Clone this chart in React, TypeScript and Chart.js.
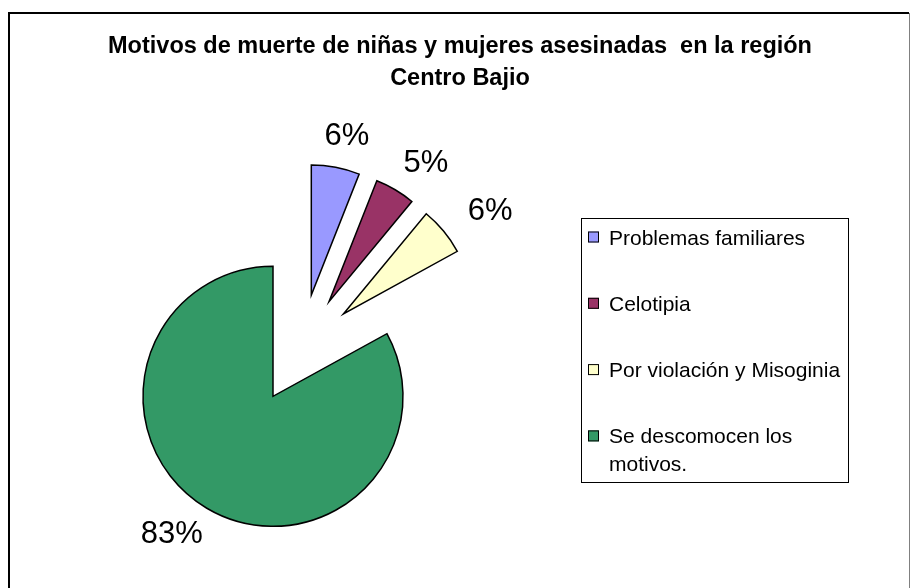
import React, { useEffect, useRef } from "react";
import { Chart, registerables } from "chart.js";

Chart.register(...registerables);

const TITLE_LINES = [
  "Motivos de muerte de niñas y mujeres asesinadas  en la región",
  "Centro Bajio",
];
const CATEGORIES = [
  "Problemas familiares",
  "Celotipia",
  "Por violación y Misoginia",
  "Se descomocen los motivos.",
];
const VALUES = [6, 5, 6, 83];
const COLORS = ["#9999FF", "#993366", "#FFFFCC", "#339966"];

const FONT = "'Liberation Sans', Arial, sans-serif";
const EXPLODE = 55;
const RADIUS = 130;

const framePlugin = {
  id: "frame",
  beforeDraw(chart: any) {
    const ctx = chart.ctx;
    ctx.save();
    ctx.fillStyle = "#ffffff";
    ctx.fillRect(0, 0, chart.width, chart.height);
    ctx.strokeStyle = "#000";
    ctx.lineWidth = 2;
    ctx.beginPath();
    ctx.moveTo(9, chart.height + 2);
    ctx.lineTo(9, 13);
    ctx.lineTo(909, 13);
    ctx.stroke();
    ctx.strokeStyle = "#808080";
    ctx.lineWidth = 1;
    ctx.beginPath();
    ctx.moveTo(909.5, 13);
    ctx.lineTo(909.5, chart.height + 2);
    ctx.stroke();
    // title
    ctx.fillStyle = "#000";
    ctx.font = `bold 23.5px ${FONT}`;
    ctx.textAlign = "center";
    ctx.textBaseline = "alphabetic";
    TITLE_LINES.forEach((line, i) => {
      ctx.fillText(line, 460, 53 + i * 32);
    });
    ctx.restore();
  },
};

const explodePlugin = {
  id: "explode",
  afterDatasetsUpdate(chart: any) {
    const meta = chart.getDatasetMeta(0);
    meta.data.forEach((arc: any) => {
      const mid = (arc.startAngle + arc.endAngle) / 2;
      arc.x += Math.cos(mid) * EXPLODE;
      arc.y += Math.sin(mid) * EXPLODE;
    });
  },
};

const labelPlugin = {
  id: "pctLabels",
  afterDatasetsDraw(chart: any) {
    const ctx = chart.ctx;
    const meta = chart.getDatasetMeta(0);
    const data = chart.data.datasets[0].data as number[];
    const total = data.reduce((a, b) => a + b, 0);
    ctx.save();
    ctx.font = `31px ${FONT}`;
    ctx.fillStyle = "#000";
    ctx.textAlign = "center";
    ctx.textBaseline = "middle";
    meta.data.forEach((arc: any, i: number) => {
      const txt = Math.round((data[i] / total) * 100) + "%";
      const tw = ctx.measureText(txt).width;
      const th = 22;
      const mid = (arc.startAngle + arc.endAngle) / 2;
      const c = Math.cos(mid);
      const s = Math.sin(mid);
      const px = arc.x + c * arc.outerRadius;
      const py = arc.y + s * arc.outerRadius;
      const lx = px + c * (tw / 2 + 38);
      const ly = py + s * (th / 2 + 20);
      ctx.fillText(txt, lx, ly);
    });
    ctx.restore();
  },
};

function wrap(ctx: CanvasRenderingContext2D, text: string, maxW: number) {
  const words = text.split(" ");
  const lines: string[] = [];
  let cur = "";
  words.forEach((w) => {
    const test = cur ? cur + " " + w : w;
    if (ctx.measureText(test).width > maxW && cur) {
      lines.push(cur);
      cur = w;
    } else {
      cur = test;
    }
  });
  if (cur) lines.push(cur);
  return lines;
}

const legendPlugin = {
  id: "boxLegend",
  afterDraw(chart: any) {
    const ctx = chart.ctx;
    const labels = chart.data.labels as string[];
    const colors = chart.data.datasets[0].backgroundColor as string[];
    const left = 581;
    const top = 218;
    const w = 267;
    const h = 264;
    ctx.save();
    ctx.strokeStyle = "#000";
    ctx.lineWidth = 1;
    ctx.strokeRect(left + 0.5, top + 0.5, w, h);
    ctx.font = `21px ${FONT}`;
    ctx.textAlign = "left";
    ctx.textBaseline = "alphabetic";
    labels.forEach((lab, i) => {
      const base = 244.5 + i * 66.3;
      ctx.fillStyle = colors[i];
      ctx.fillRect(588, base - 13, 11, 11);
      ctx.strokeStyle = "#000";
      ctx.strokeRect(588.5, base - 12.5, 10, 10);
      ctx.fillStyle = "#000";
      const lines = wrap(ctx, lab, 238);
      lines.forEach((ln, j) => ctx.fillText(ln, 609, base + j * 27.7));
    });
    ctx.restore();
  },
};

export default function App() {
  const ref = useRef<HTMLCanvasElement | null>(null);
  useEffect(() => {
    if (!ref.current) return;
    const chart = new Chart(ref.current, {
      type: "pie",
      data: {
        labels: CATEGORIES,
        datasets: [
          {
            data: VALUES,
            backgroundColor: COLORS,
            borderColor: "#000",
            borderWidth: 1.5,
            borderJoinStyle: "miter",
            radius: RADIUS,
          } as any,
        ],
      },
      options: {
        responsive: false,
        animation: false,
        devicePixelRatio: 1,
        events: [],
        layout: { padding: { left: 20, right: 328, top: 150, bottom: 40 } },
        plugins: {
          legend: { display: false },
          tooltip: { enabled: false },
          title: { display: false },
        },
      } as any,
      plugins: [framePlugin, explodePlugin, labelPlugin, legendPlugin],
    });
    return () => chart.destroy();
  }, []);
  return (
    <div style={{ position: "absolute", left: 0, top: 0, width: 910, height: 588 }}>
      <canvas ref={ref} width={910} height={588} style={{ display: "block", width: 910, height: 588 }} />
    </div>
  );
}
